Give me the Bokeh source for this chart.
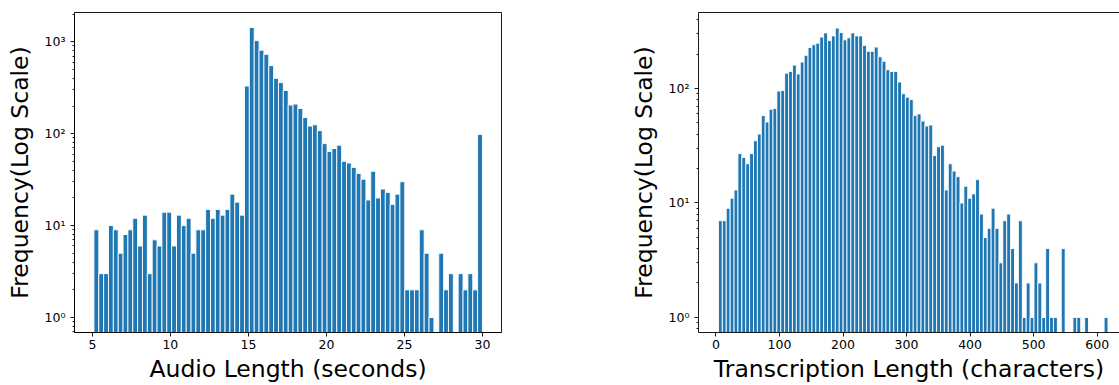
import numpy as np
from bokeh.plotting import figure
from bokeh.layouts import row
from bokeh.models import Range1d, FixedTicker, LinearAxis, ColumnDataSource
from bokeh.embed import file_html
from bokeh.resources import INLINE

# Audio clip durations (seconds), 80 equal-width bins between these limits
audio_limits = (5.1, 30.0)
audio_counts = [
    9, 3, 3, 10, 9, 5, 8, 9, 12, 6, 13, 3, 7, 6, 14, 14, 6, 13, 10, 12,
    5, 9, 9, 15, 12, 15, 13, 15, 22, 18, 13, 330, 1430, 1030, 810, 730, 550, 400, 360, 295,
    205, 210, 188, 150, 121, 125, 108, 78, 64, 69, 75, 50, 48, 43, 37, 32, 19, 39, 20, 25,
    23, 17, 22, 30, 2, 2, 2, 9, 5, 1, 0, 5, 2, 3, 0, 3, 2, 3, 2, 98,
]

# Transcription lengths (characters), 100 equal-width bins between these limits
text_limits = (4.0, 617.0)
text_counts = [
    7, 7, 9, 11, 13, 27, 25, 22, 27, 35, 40, 58, 51, 66, 67, 95, 96, 136, 141, 160,
    134, 170, 195, 228, 241, 249, 281, 306, 262, 288, 337, 308, 266, 277, 306, 288, 288, 238, 211, 211,
    230, 189, 173, 146, 141, 141, 114, 90, 84, 80, 58, 60, 52, 47, 48, 26, 31, 32, 13, 22,
    19, 17, 10, 14, 11, 12, 16, 8, 5, 6, 9, 6, 3, 7, 8, 4, 2, 7, 1, 2,
    1, 3, 2, 1, 4, 1, 1, 0, 4, 0, 0, 1, 1, 0, 1, 0, 0, 0, 0, 1,
]

audio_xticks = [5, 10, 15, 20, 25, 30]
text_xticks = [0, 100, 200, 300, 400, 500, 600]
log_major = [1, 10, 100, 1000]
log_labels = {1: "10\u2070", 10: "10\u00b9", 100: "10\u00b2", 1000: "10\u00b3"}

BAR_COLOR = "#1f77b4"
FONT = "DejaVu Sans"
INK = "black"
LW = 0.9

log_minor = [m * 10.0 ** e for e in range(-1, 4) for m in range(2, 10)]


def histogram(counts, limits, x_range, y_range, xticks, xlabel,
              frame_width, border_left, border_right):
    n = len(counts)
    edges = np.linspace(limits[0], limits[1], n + 1)
    centers = 0.5 * (edges[:-1] + edges[1:])
    vals = np.asarray(counts, dtype=float)
    keep = vals > 0
    src = ColumnDataSource(dict(x=centers[keep], top=vals[keep]))

    p = figure(x_range=Range1d(*x_range), y_range=Range1d(*y_range),
               y_axis_type="log", frame_width=frame_width, frame_height=320,
               min_border_left=border_left, min_border_right=border_right,
               min_border_top=12, min_border_bottom=53,
               output_backend="svg", toolbar_location=None,
               background_fill_color="white", border_fill_color="white")
    p.vbar(x="x", top="top", bottom=0.01, width=edges[1] - edges[0], source=src,
           fill_color=BAR_COLOR, line_color="white", line_width=0.9)

    p.xgrid.visible = False
    p.ygrid.visible = False
    p.outline_line_color = INK
    p.outline_line_width = LW

    p.xaxis.ticker = FixedTicker(ticks=xticks, minor_ticks=[])
    p.yaxis.ticker = FixedTicker(ticks=log_major, minor_ticks=log_minor)
    p.yaxis.major_label_overrides = log_labels

    for ax in (p.xaxis[0], p.yaxis[0]):
        ax.axis_line_color = INK
        ax.axis_line_width = LW
        ax.major_tick_line_color = INK
        ax.major_tick_line_width = LW
        ax.minor_tick_line_color = INK
        ax.minor_tick_line_width = LW
        ax.major_tick_out = 4
        ax.major_tick_in = 0
        ax.minor_tick_out = 2
        ax.minor_tick_in = 0
        ax.major_label_text_font = FONT
        ax.major_label_text_font_size = "12.5px"
        ax.major_label_text_color = INK
        ax.axis_label_text_font = FONT
        ax.axis_label_text_font_size = "23.5px"
        ax.axis_label_text_font_style = "normal"
        ax.axis_label_text_color = INK

    p.xaxis.axis_label = xlabel
    p.xaxis.major_label_standoff = 3
    p.xaxis.axis_label_standoff = 3
    p.yaxis.axis_label = "Frequency(Log Scale)"
    p.yaxis.major_label_standoff = 5
    p.yaxis.axis_label_standoff = 8
    return p


p1 = histogram(audio_counts, audio_limits, (3.855, 31.22), (0.687, 2083),
               audio_xticks, "Audio Length (seconds)",
               frame_width=427, border_left=74, border_right=100)

p2 = histogram(text_counts, text_limits, (-27.4, 635.1), (0.739, 461),
               text_xticks, "Transcription Length (characters)",
               frame_width=421, border_left=97, border_right=0)

# the right-hand panel runs off the page edge: draw only its top, left and bottom spines
p2.outline_line_color = None
top_spine = LinearAxis(ticker=FixedTicker(ticks=[]), axis_line_color=INK,
                       axis_line_width=LW, major_tick_line_color=None,
                       minor_tick_line_color=None, major_label_text_font_size="0px")
p2.add_layout(top_spine, "above")

layout = row(p1, p2)
open("out.html", "w").write(file_html(layout, INLINE))
